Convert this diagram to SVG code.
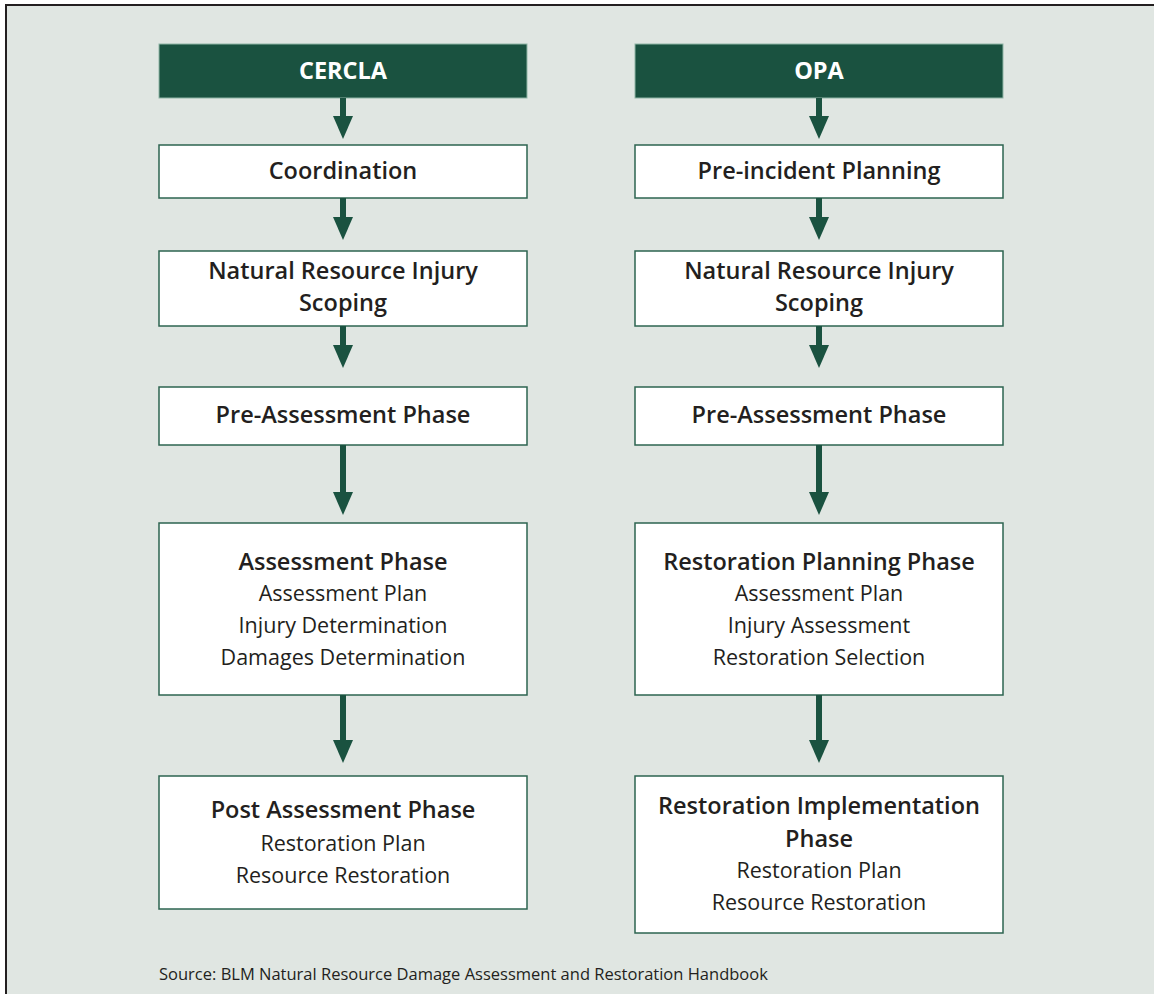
<svg xmlns="http://www.w3.org/2000/svg" width="1154" height="994" viewBox="0 0 1154 994">
<style>
.bg{fill:#e0e6e2;stroke:#231f20;stroke-width:2}
.hdr{fill:#1a5240;stroke:#8fb5a6;stroke-width:1}
.box{fill:#ffffff;stroke:#2d6450;stroke-width:1.5}
.ht{font-family:"Open Sans","Liberation Sans",sans-serif;font-weight:700;font-size:23.5px;fill:#ffffff;text-anchor:middle}
.b{font-family:"Open Sans","Liberation Sans",sans-serif;font-weight:600;font-size:23.5px;fill:#231f20;text-anchor:middle}
.r{font-family:"Open Sans","Liberation Sans",sans-serif;font-weight:400;font-size:21.5px;fill:#231f20;text-anchor:middle}
.src{font-family:"Open Sans","Liberation Sans",sans-serif;font-size:16.5px;fill:#231f20}
.shaft{stroke:#1a5240;stroke-width:6;fill:none}
.head{fill:#1a5240}
</style>
<rect class="bg" x="6" y="5" width="1160" height="1000"/>
<g id="cercla"><rect class="hdr" x="159" y="44" width="368" height="54"/><text class="ht" x="343" y="79">CERCLA</text></g>
<g id="opa"><rect class="hdr" x="635" y="44" width="368" height="54"/><text class="ht" x="819" y="79">OPA</text></g>
<g id="coordination"><rect class="box" x="159" y="145" width="368" height="53"/><text class="b" x="343" y="179">Coordination</text></g>
<g id="preincident"><rect class="box" x="635" y="145" width="368" height="53"/><text class="b" x="819" y="179">Pre-incident Planning</text></g>
<g id="nri-left"><rect class="box" x="159" y="251" width="368" height="75"/><text class="b" x="343" y="279">Natural Resource Injury</text><text class="b" x="343" y="311">Scoping</text></g>
<g id="nri-right"><rect class="box" x="635" y="251" width="368" height="75"/><text class="b" x="819" y="279">Natural Resource Injury</text><text class="b" x="819" y="311">Scoping</text></g>
<g id="pre-left"><rect class="box" x="159" y="387" width="368" height="58"/><text class="b" x="343" y="423">Pre-Assessment Phase</text></g>
<g id="pre-right"><rect class="box" x="635" y="387" width="368" height="58"/><text class="b" x="819" y="423">Pre-Assessment Phase</text></g>
<g id="assessment"><rect class="box" x="159" y="523" width="368" height="172"/><text class="b" x="343" y="570">Assessment Phase</text><text class="r" x="343" y="601">Assessment Plan</text><text class="r" x="343" y="633">Injury Determination</text><text class="r" x="343" y="665">Damages Determination</text></g>
<g id="restoration-planning"><rect class="box" x="635" y="523" width="368" height="172"/><text class="b" x="819" y="570">Restoration Planning Phase</text><text class="r" x="819" y="601">Assessment Plan</text><text class="r" x="819" y="633">Injury Assessment</text><text class="r" x="819" y="665">Restoration Selection</text></g>
<g id="post"><rect class="box" x="159" y="776" width="368" height="133"/><text class="b" x="343" y="818">Post Assessment Phase</text><text class="r" x="343" y="851">Restoration Plan</text><text class="r" x="343" y="883">Resource Restoration</text></g>
<g id="implementation"><rect class="box" x="635" y="776" width="368" height="157"/><text class="b" x="819" y="814">Restoration Implementation</text><text class="b" x="819" y="847">Phase</text><text class="r" x="819" y="878">Restoration Plan</text><text class="r" x="819" y="910">Resource Restoration</text></g>
<g id="connectors">
<line class="shaft" x1="343" y1="98" x2="343" y2="118"/><polygon class="head" points="333,116 353,116 343,139"/>
<line class="shaft" x1="819" y1="98" x2="819" y2="118"/><polygon class="head" points="809,116 829,116 819,139"/>
<line class="shaft" x1="343" y1="198" x2="343" y2="219"/><polygon class="head" points="333,217 353,217 343,240"/>
<line class="shaft" x1="819" y1="198" x2="819" y2="219"/><polygon class="head" points="809,217 829,217 819,240"/>
<line class="shaft" x1="343" y1="326" x2="343" y2="347"/><polygon class="head" points="333,345 353,345 343,368"/>
<line class="shaft" x1="819" y1="326" x2="819" y2="347"/><polygon class="head" points="809,345 829,345 819,368"/>
<line class="shaft" x1="343" y1="445" x2="343" y2="494"/><polygon class="head" points="333,492 353,492 343,515"/>
<line class="shaft" x1="819" y1="445" x2="819" y2="494"/><polygon class="head" points="809,492 829,492 819,515"/>
<line class="shaft" x1="343" y1="695" x2="343" y2="742"/><polygon class="head" points="333,740 353,740 343,763"/>
<line class="shaft" x1="819" y1="695" x2="819" y2="742"/><polygon class="head" points="809,740 829,740 819,763"/>
</g>
<text class="src" x="159" y="980">Source: BLM Natural Resource Damage Assessment and Restoration Handbook</text>
</svg>
